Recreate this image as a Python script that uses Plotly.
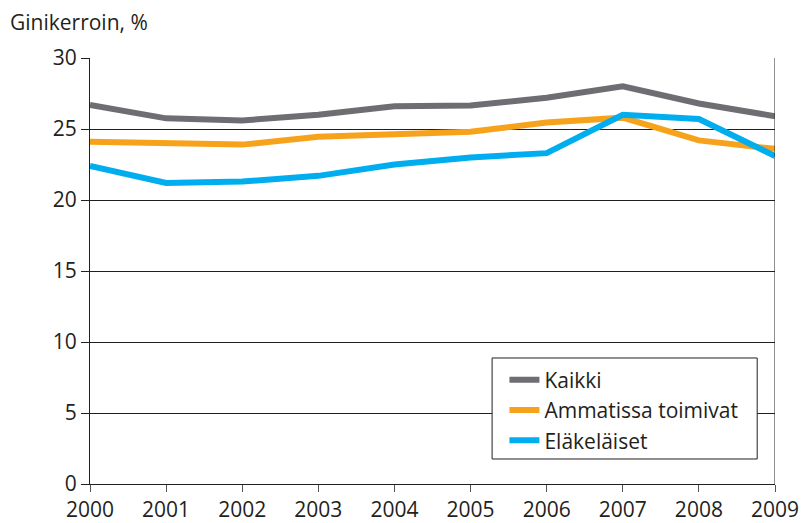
import plotly.graph_objects as go

years = [2000, 2001, 2002, 2003, 2004, 2005, 2006, 2007, 2008, 2009]
kaikki = [26.7, 25.75, 25.6, 26.0, 26.6, 26.65, 27.2, 28.0, 26.8, 25.9]
ammatissa = [24.1, 24.0, 23.9, 24.45, 24.6, 24.8, 25.45, 25.8, 24.2, 23.6]
elakelaiset = [22.4, 21.2, 21.3, 21.7, 22.5, 23.0, 23.3, 26.0, 25.7, 23.1]
y_ticks = [0, 5, 10, 15, 20, 25, 30]

series = [
    ("Kaikki", kaikki, "#6d6e71"),
    ("Ammatissa toimivat", ammatissa, "#f7a21b"),
    ("Eläkeläiset", elakelaiset, "#00aeef"),
]

fig = go.Figure()
for name, vals, col in series:
    fig.add_trace(go.Scatter(x=years, y=vals, name=name, mode="lines",
                             line=dict(color=col, width=6)))

font = "Open Sans, DejaVu Sans, sans-serif"
ink = "#231f20"
fig.update_layout(
    width=802, height=523,
    margin=dict(l=90, r=27, t=58, b=39, autoexpand=False),
    plot_bgcolor="white", paper_bgcolor="white",
    font=dict(family=font, size=22, color=ink),
    showlegend=True,
    legend=dict(x=0.605, y=0.292, xanchor="left", yanchor="top",
                borderwidth=0, bgcolor="rgba(0,0,0,0)",
                font=dict(size=21), tracegroupgap=0, itemwidth=30),
)
fig.add_shape(type="rect", xref="paper", yref="paper",
              x0=0.587, x1=0.974, y0=0.0587, y1=0.2958,
              line=dict(color=ink, width=1), fillcolor="white", layer="above")
fig.add_annotation(text="Ginikerroin, %", xref="paper", yref="paper",
                   x=-0.1197, y=1.085, xanchor="left", yanchor="middle",
                   showarrow=False, font=dict(size=21))
fig.update_xaxes(range=[2000, 2009], tickvals=years, ticktext=[str(y) for y in years],
                 ticks="outside", ticklen=7, tickcolor="#555",
                 showline=True, linecolor=ink, linewidth=1, mirror=False,
                 showgrid=False, zeroline=False, tickfont=dict(size=21),
                 automargin=False)
fig.update_yaxes(range=[0, 30], tickvals=y_ticks, ticks="outside", ticklen=8,
                 tickcolor=ink, showline=True, linecolor=ink, linewidth=1,
                 showgrid=True, gridcolor=ink, gridwidth=1, zeroline=False,
                 tickfont=dict(size=21), automargin=False)
fig.add_shape(type="line", xref="x", yref="paper", x0=2009, x1=2009, y0=0, y1=1,
              line=dict(color=ink, width=1))

fig.write_html("out.html", config={"displayModeBar": False},
               post_script="document.body.style.margin='0';document.body.style.overflow='hidden';")
